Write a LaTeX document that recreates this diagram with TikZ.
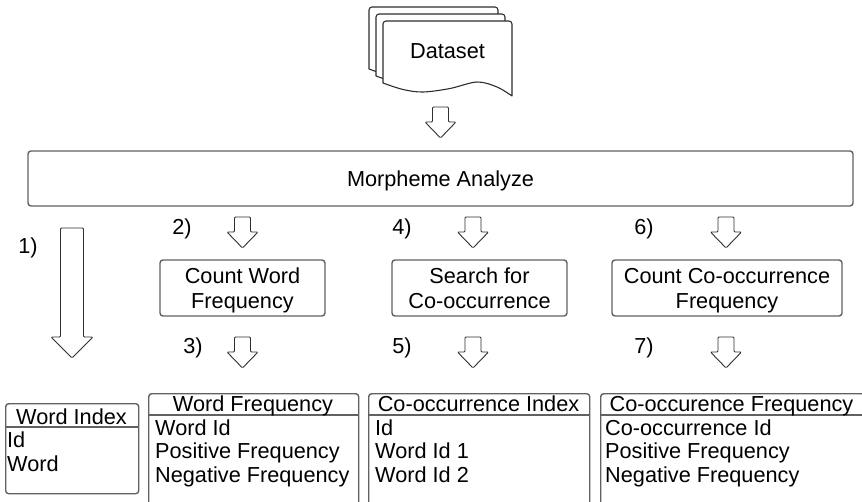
\documentclass[tikz,border=0pt]{standalone}
\usepackage{fontspec}
\setmainfont{Liberation Sans}

% one page of the stacked "Dataset" symbol: #1 = left edge, #2 = top edge
\newcommand{\docpage}[2]{%
  \draw[docshape] (#1,{#2+62}) [rounded corners=3pt] -- (#1,#2) -- ({#1+129},#2)
    [sharp corners] -- plot[smooth, tension=0.55] coordinates {
      ({#1+129},{#2+75}) ({#1+114},{#2+66}) ({#1+94},{#2+61})
      ({#1+67},{#2+67.5}) ({#1+40},{#2+71}) ({#1+20},{#2+68.5}) (#1,{#2+62})
    } -- cycle;}

% downward block arrow: #1 centre x, #2 top, #3 tip, #4 half shaft, #5 half head, #6 head length
\newcommand{\downblock}[6]{%
  \draw[blockarrow] ({#1-#4},#2) -- ({#1+#4},#2) -- ({#1+#4},{#3-#6})
    -- ({#1+#5},{#3-#6}) -- (#1,#3) -- ({#1-#5},{#3-#6})
    -- ({#1-#4},{#3-#6}) -- cycle;}

\begin{document}
\begin{tikzpicture}[x=1pt, y=-1pt,
  every node/.style={font=\fontsize{21.7}{25}\selectfont, inner sep=0pt},
  procbox/.style={draw=black!62, line width=1.4pt, rounded corners=3pt,
    align=center, text depth=0pt},
  tablebox/.style={draw=black!62, line width=1.4pt, rounded corners=3pt,
    anchor=north west},
  tabrule/.style={draw=black!62, line width=1.4pt},
  docshape/.style={draw=black!82, line width=1.1pt, fill=white, line join=round},
  blockarrow/.style={draw=black!82, line width=0.9pt, fill=white,
    rounded corners=1pt, line join=round},
  steplabel/.style={anchor=center},
  headtext/.style={anchor=base},
  rowtext/.style={anchor=base west},
]
\useasboundingbox (0,0) rectangle (862,501);

% ---- dataset (stack of documents) ----
\docpage{369}{7}
\docpage{376}{14}
\docpage{383}{21}
\node (dataset) at (447.5,51.5) {Dataset};

\downblock{440.5}{107}{138}{8}{15.5}{16}

% ---- morpheme analysis ----
\node[procbox, minimum width=825pt, minimum height=55pt] (morph) at (440.5,178.5)
  {Morpheme Analyze};

% ---- processing steps ----
\node[procbox, minimum width=165pt, minimum height=56pt] (cwf) at (242.5,288)
  {Count Word\\Frequency};
\node[procbox, minimum width=175pt, minimum height=56pt] (sfc) at (479.5,288)
  {Search for\\Co-occurrence};
\node[procbox, minimum width=230pt, minimum height=56pt] (ccf) at (727,288)
  {Count Co-occurrence\\Frequency};

% ---- arrows ----
\downblock{72}{228}{358}{11.5}{21}{21}
\downblock{242.5}{217}{248}{8}{15.5}{16}
\downblock{242.5}{337}{368}{8}{15.5}{16}
\downblock{473}{217}{248}{8}{15.5}{16}
\downblock{473}{337}{368}{8}{15.5}{16}
\downblock{726}{217}{248}{8}{15.5}{16}
\downblock{726}{337}{368}{8}{15.5}{16}

% ---- step numbers ----
\node[steplabel] (n1) at (28,248) {1)};
\node[steplabel] (n2) at (182,229) {2)};
\node[steplabel] (n3) at (193,348) {3)};
\node[steplabel] (n4) at (402,229) {4)};
\node[steplabel] (n5) at (402,348) {5)};
\node[steplabel] (n6) at (644,229) {6)};
\node[steplabel] (n7) at (644,348) {7)};

% ---- tables ----
% Word Index
\node[tablebox, minimum width=133pt, minimum height=90pt] (wi) at (5,403) {};
\draw[tabrule] ([yshift=-24pt]wi.north west) -- ([yshift=-24pt]wi.north east);
\node[headtext] (wi-h) at (71.5,424) {Word Index};
\node[rowtext] (wi-1) at (7,447) {Id};
\node[rowtext] (wi-2) at (7,471) {Word};

% Word Frequency
\node[tablebox, minimum width=210pt, minimum height=125pt] (wf) at (148,393) {};
\draw[tabrule] ([yshift=-22pt]wf.north west) -- ([yshift=-22pt]wf.north east);
\node[headtext] (wf-h) at (253,411) {Word Frequency};
\node[rowtext] (wf-1) at (155,435) {Word Id};
\node[rowtext] (wf-2) at (155,458.5) {Positive Frequency};
\node[rowtext] (wf-3) at (155,482) {Negative Frequency};

% Co-occurrence Index
\node[tablebox, minimum width=221pt, minimum height=125pt] (ci) at (368,393) {};
\draw[tabrule] ([yshift=-22pt]ci.north west) -- ([yshift=-22pt]ci.north east);
\node[headtext] (ci-h) at (478.5,411) {Co-occurrence Index};
\node[rowtext] (ci-1) at (375,435) {Id};
\node[rowtext] (ci-2) at (375,458.5) {Word Id 1};
\node[rowtext] (ci-3) at (375,482) {Word Id 2};

% Co-occurrence Frequency
\node[tablebox, minimum width=264pt, minimum height=125pt] (cf) at (600,393) {};
\draw[tabrule] ([yshift=-22pt]cf.north west) -- ([yshift=-22pt]cf.north east);
\node[headtext] (cf-h) at (731.5,411) {Co-occurence Frequency};
\node[rowtext] (cf-1) at (605,435) {Co-occurrence Id};
\node[rowtext] (cf-2) at (605,458.5) {Positive Frequency};
\node[rowtext] (cf-3) at (605,482) {Negative Frequency};
\end{tikzpicture}
\end{document}
